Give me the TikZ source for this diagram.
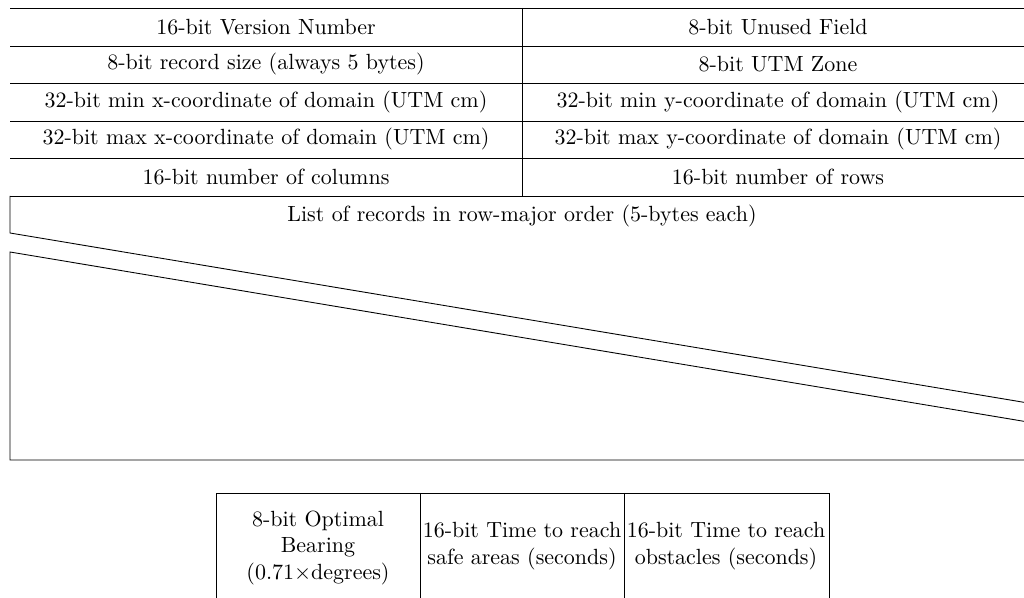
\documentclass[tikz,border=0pt]{standalone}
\begin{document}
\begin{tikzpicture}[x=0.455pt,y=-0.455pt,
  cell/.style={inner sep=0pt},
  bytecell/.style={inner sep=0pt, text width=92pt, align=center}]
 \useasboundingbox (0,0) rectangle (1024,598);
 \clip (0,0) rectangle (1024,598);
 % header fields
 \draw (10,8) -- (1034,8);
 \foreach \y in {46,83,121,158,196}
  \draw (10,\y) -- (1034,\y);
 \draw (522,8) -- (522,196);
 \draw (1034,8) -- (1034,196);
 \node[cell] (version) at (266,27) {16-bit Version Number};
 \node[cell] (unused) at (778,27) {8-bit Unused Field};
 \node[cell] (recsize) at (266,64.5) {8-bit record size (always 5 bytes)};
 \node[cell] (zone) at (778,64.5) {8-bit UTM Zone};
 \node[cell] (minx) at (266,102) {32-bit min x-coordinate of domain (UTM cm)};
 \node[cell] (miny) at (778,102) {32-bit min y-coordinate of domain (UTM cm)};
 \node[cell] (maxx) at (266,139.5) {32-bit max x-coordinate of domain (UTM cm)};
 \node[cell] (maxy) at (778,139.5) {32-bit max y-coordinate of domain (UTM cm)};
 \node[cell] (ncols) at (266,177) {16-bit number of columns};
 \node[cell] (nrows) at (778,177) {16-bit number of rows};
 % records, with a break
 \node[cell] (records) at (522,216) {List of records in row-major order (5-bytes each)};
 \draw (10,196) -- (10,233) -- (1034,404);
 \draw (1034,196) -- (1034,404);
 \draw (1034,423) -- (10,252) -- (10,460) -- (1034,460) -- cycle;
 % one record
 \draw (216,493) rectangle (829,610);
 \draw (420,493) -- (420,610);
 \draw (624,493) -- (624,610);
 \node[bytecell] (bearing) at (318,548) {8-bit Optimal\\ Bearing\\ ($0.71{\times}$degrees)};
 \node[bytecell] (safe) at (522,546) {16-bit Time to reach\\ safe areas (seconds)};
 \node[bytecell] (obst) at (726,546) {16-bit Time to reach\\ obstacles (seconds)};
\end{tikzpicture}
\end{document}
